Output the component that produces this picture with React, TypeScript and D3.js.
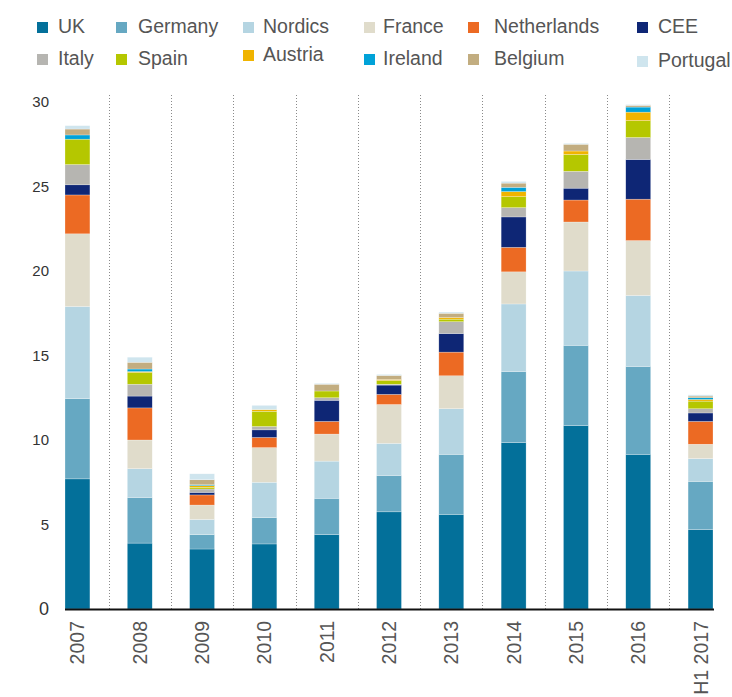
import React, { useEffect, useRef } from 'react';
import * as d3 from 'd3';

const years = ['2007', '2008', '2009', '2010', '2011', '2012', '2013', '2014', '2015', '2016', 'H1 2017'];

const seriesNames = ['UK', 'Germany', 'Nordics', 'France', 'Netherlands', 'CEE', 'Italy', 'Spain', 'Austria', 'Ireland', 'Belgium', 'Portugal'];
const seriesColors = ['#03709a', '#66a8c2', '#b5d5e2', '#e0dccb', '#ec6a23', '#0e2675', '#b6b5b1', '#b5c700', '#f0b400', '#00a2d8', '#c2ad80', '#cfe5ee'];

const uk = [7.7, 3.9, 3.55, 3.85, 4.4, 5.75, 5.6, 9.85, 10.85, 9.15, 4.7];
const germany = [4.75, 2.7, 0.85, 1.55, 2.15, 2.15, 3.55, 4.2, 4.75, 5.2, 2.85];
const nordics = [5.45, 1.7, 0.9, 2.1, 2.2, 1.9, 2.7, 4.0, 4.4, 4.2, 1.35];
const france = [4.3, 1.7, 0.85, 2.05, 1.6, 2.3, 1.95, 1.9, 2.9, 3.25, 0.85];
const netherlands = [2.3, 1.9, 0.6, 0.6, 0.75, 0.6, 1.4, 1.45, 1.3, 2.45, 1.35];
const cee = [0.6, 0.7, 0.15, 0.45, 1.25, 0.55, 1.1, 1.8, 0.7, 2.35, 0.5];
const italy = [1.2, 0.7, 0.2, 0.2, 0.15, 0.05, 0.7, 0.55, 1.0, 1.3, 0.25];
const spain = [1.5, 0.7, 0.1, 0.9, 0.4, 0.22, 0.15, 0.65, 1.0, 1.0, 0.45];
const austria = [0, 0.05, 0.1, 0.1, 0, 0.06, 0.1, 0.3, 0.2, 0.5, 0.1];
const ireland = [0.25, 0.15, 0.05, 0, 0, 0, 0, 0.25, 0, 0.3, 0.1];
const belgium = [0.35, 0.4, 0.3, 0, 0.4, 0.24, 0.25, 0.25, 0.4, 0.1, 0.1];
const portugal = [0.2, 0.3, 0.35, 0.25, 0.05, 0.06, 0.07, 0.1, 0.05, 0.05, 0.07];

const yTicks = [0, 5, 10, 15, 20, 25, 30];

export default function App() {
  const svgRef = useRef<SVGSVGElement>(null);

  useEffect(() => {
    document.body.style.margin = '0';
    if (!svgRef.current) return;
    drawChart();
  }, []);

  const drawChart = () => {
    const svg = d3.select(svgRef.current);
    svg.selectAll('*').remove();

    const values = [uk, germany, nordics, france, netherlands, cee, italy, spain, austria, ireland, belgium, portugal];
    const rows = years.map((year, i) => {
      const row: any = { year };
      seriesNames.forEach((s, j) => (row[s] = values[j][i]));
      return row;
    });

    const stacked = d3.stack<any>().keys(seriesNames)(rows);

    const x = d3.scaleBand().domain(years).range([65, 713]).paddingInner(0.6).paddingOuter(0);
    const y = d3.scaleLinear().domain([0, 30]).range([609, 102]);
    const color = d3.scaleOrdinal<string, string>().domain(seriesNames).range(seriesColors);

    const font = '"Liberation Sans", Arial, sans-serif';

    // dotted separators between bars
    const gap = (x.step() - x.bandwidth()) / 2;
    svg
      .append('g')
      .selectAll('line')
      .data(years.slice(1))
      .enter()
      .append('line')
      .attr('x1', (d) => Math.round((x(d) as number) - gap) + 0.5)
      .attr('x2', (d) => Math.round((x(d) as number) - gap) + 0.5)
      .attr('y1', 95)
      .attr('y2', y(0))
      .attr('stroke', '#8a8a8a')
      .attr('stroke-width', 1)
      .attr('stroke-dasharray', '1,2');

    // bars
    svg
      .append('g')
      .selectAll('g')
      .data(stacked)
      .enter()
      .append('g')
      .attr('fill', (d) => color(d.key))
      .selectAll('rect')
      .data((d) => d)
      .enter()
      .append('rect')
      .attr('x', (d: any) => x(d.data.year) as number)
      .attr('width', x.bandwidth())
      .attr('y', (d) => y(d[1]))
      .attr('height', (d) => Math.max(0, y(d[0]) - y(d[1])))
      .attr('stroke', '#ffffff')
      .attr('stroke-opacity', 0.5)
      .attr('stroke-width', 0.5);

    // baseline
    svg
      .append('line')
      .attr('x1', 65)
      .attr('x2', 714)
      .attr('y1', y(0) + 0.5)
      .attr('y2', y(0) + 0.5)
      .attr('stroke', '#111')
      .attr('stroke-width', 2);

    // y labels
    svg
      .append('g')
      .selectAll('text')
      .data(yTicks)
      .enter()
      .append('text')
      .attr('x', 49)
      .attr('y', (d) => y(d))
      .attr('dy', '0.36em')
      .attr('text-anchor', 'end')
      .style('font-family', font)
      .style('font-size', (d) => (d === 0 ? '18px' : '15px'))
      .style('fill', '#333')
      .text((d) => d);

    // x labels
    svg
      .append('g')
      .selectAll('text')
      .data(years)
      .enter()
      .append('text')
      .attr('transform', (d) => `translate(${(x(d) as number) + x.bandwidth() / 2 + 7},621) rotate(-90)`)
      .attr('text-anchor', 'end')
      .style('font-family', font)
      .style('font-size', '19.5px')
      .style('fill', '#555')
      .text((d) => d);

    // legend
    const colX = [37, 116, 243, 364, 468, 637];
    const textX = [58, 138, 263, 383, 494, 658];
    const nudge: Record<string, number> = { Austria: -4, Portugal: 2 };
    const legend = svg
      .append('g')
      .selectAll('g')
      .data(seriesNames)
      .enter()
      .append('g')
      .attr('transform', (d, i) => `translate(0,${(i < 6 ? 33 : 65) + (nudge[d] || 0)})`);

    legend
      .append('rect')
      .attr('x', (d, i) => colX[i % 6])
      .attr('y', -11)
      .attr('width', 11)
      .attr('height', 11)
      .attr('fill', (d) => color(d));

    legend
      .append('text')
      .attr('x', (d, i) => textX[i % 6])
      .attr('y', 0)
      .style('font-family', font)
      .style('font-size', '19.5px')
      .style('fill', '#555')
      .text((d) => d);
  };

  return <svg ref={svgRef} width={732} height={697} style={{ display: 'block' }}></svg>;
}
